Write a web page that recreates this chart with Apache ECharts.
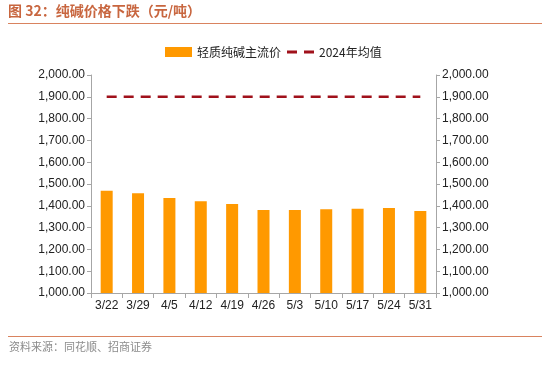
<!DOCTYPE html>
<html><head><meta charset="utf-8">
<script src="https://cdn.jsdelivr.net/npm/echarts@6/dist/echarts.min.js"></script>
<style>html,body{margin:0;padding:0;background:#fff}#c{width:550px;height:391px}</style>
</head><body><div id="c"></div>
<script>
var categories = ['3/22','3/29','4/5','4/12','4/19','4/26','5/3','5/10','5/17','5/24','5/31'];
var priceValues = [1469,1457,1436,1421,1408,1381,1381,1384,1387,1390,1376];
var avg2024Values = [1900,1900,1900,1900,1900,1900,1900,1900,1900,1900,1900];
var yTicks = [1000,1100,1200,1300,1400,1500,1600,1700,1800,1900,2000];
var seriesNames = ['轻质纯碱主流价','2024年均值'];
var titleText = '图 32：纯碱价格下跌（元/吨）';
var sourceText = '资料来源：同花顺、招商证券';

function fmt(v){return v.toLocaleString('en-US',{minimumFractionDigits:2,maximumFractionDigits:2});}
var font = 'Liberation Sans, Arial, sans-serif';
var axisCommon = {
  type:'value', min:yTicks[0], max:yTicks[yTicks.length-1], interval:100,
  axisLine:{show:true,lineStyle:{color:'#a6a6a6'}},
  axisTick:{show:true,length:4,lineStyle:{color:'#a6a6a6'}},
  splitLine:{show:false},
  axisLabel:{formatter:fmt,color:'#222',fontSize:12,fontFamily:font,margin:6}
};
var chart = echarts.init(document.getElementById('c'));
chart.setOption({
  animation:false,
  grid:{left:91,right:114,top:75,bottom:98},
  graphic:[
    {type:'text',left:8,top:4,style:{text:titleText,fill:'#c8663f',font:'bold 14px "Noto Sans CJK SC", sans-serif'}},
    {type:'rect',shape:{x:8,y:23,width:534,height:1},style:{fill:'#d9835f'}},
    {type:'rect',shape:{x:8,y:336,width:534,height:1},style:{fill:'#d9835f'}},
    {type:'text',left:9,top:341,style:{text:sourceText,fill:'#8c8c8c',font:'11px "Noto Sans CJK SC", sans-serif'}}
  ],
  legend:{
    top:41,left:160,itemGap:6,itemWidth:27,itemHeight:10,
    textStyle:{fontSize:12,color:'#222',fontFamily:'"Noto Sans CJK SC", sans-serif'},
    data:[{name:seriesNames[0],icon:'rect'},{name:seriesNames[1],icon:'path://M0,0h10v3h-10zM17,0h10v3h-10z'}]
  },
  xAxis:{type:'category',data:categories,
    axisLine:{lineStyle:{color:'#a6a6a6'}},
    axisTick:{show:true,alignWithLabel:false,length:5,lineStyle:{color:'#a6a6a6'}},
    axisLabel:{color:'#222',fontSize:12,fontFamily:font,margin:7,interval:0}},
  yAxis:[Object.assign({position:'left'},axisCommon),Object.assign({position:'right'},axisCommon)],
  series:[
    {name:seriesNames[0],type:'bar',data:priceValues,barWidth:12,itemStyle:{color:'#ff9900'}},
    {name:seriesNames[1],type:'line',data:avg2024Values,symbol:'none',
     lineStyle:{color:'#a0111b',width:2.5,type:[10,7]},itemStyle:{color:'#a0111b'}}
  ]
});
</script></body></html>
